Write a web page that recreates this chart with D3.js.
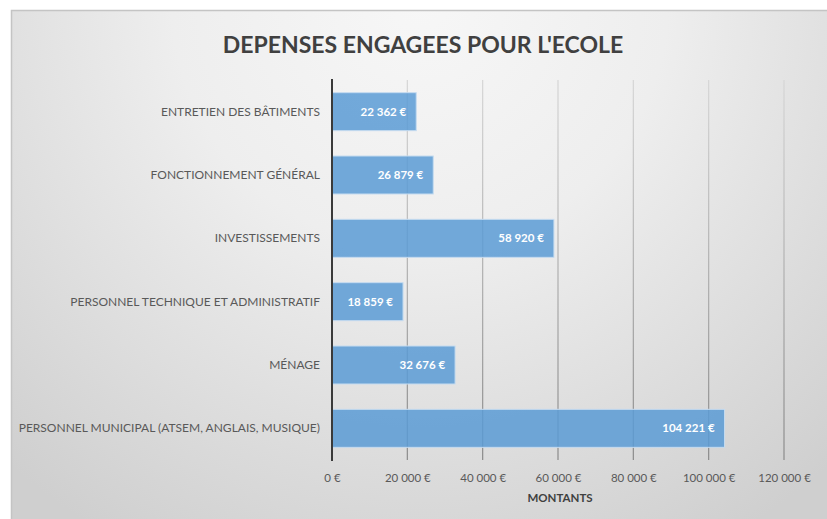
<!DOCTYPE html>
<html lang="fr">
<head>
    <meta charset="UTF-8">
    <title>Dépenses engagées pour l'école</title>
    <style>
        body { margin: 0; background: #fff; }
        text { font-family: Lato, "Open Sans", sans-serif; }
    </style>
</head>
<body>
<script src="https://d3js.org/d3.v7.min.js"></script>
<script>
    var categories = [
        "ENTRETIEN DES BÂTIMENTS",
        "FONCTIONNEMENT GÉNÉRAL",
        "INVESTISSEMENTS ",
        "PERSONNEL TECHNIQUE ET ADMINISTRATIF",
        "MÉNAGE",
        "PERSONNEL MUNICIPAL (ATSEM, ANGLAIS, MUSIQUE)"
    ];
    var montants = [22362, 26879, 58920, 18859, 32676, 104221];
    var tickValues = [0, 20000, 40000, 60000, 80000, 100000, 120000];

    var width = 827,
        height = 519;

    // format "104 221 €"
    var fmt = function (v) {
        return d3.format(",")(v).replace(/,/g, " ") + " €";
    };

    var svg = d3.select("body")
        .append("svg")
        .attr("width", width)
        .attr("height", height);

    var defs = svg.append("defs");
    var bg = defs.append("radialGradient")
        .attr("id", "bg")
        .attr("gradientUnits", "userSpaceOnUse")
        .attr("cx", 420).attr("cy", 0).attr("r", 620);
    bg.append("stop").attr("offset", "0%").attr("stop-color", "#f7f7f7");
    bg.append("stop").attr("offset", "40%").attr("stop-color", "#eeeeee");
    bg.append("stop").attr("offset", "100%").attr("stop-color", "#cfcfcf");

    var gridGrad = defs.append("linearGradient")
        .attr("id", "gridGrad")
        .attr("gradientUnits", "userSpaceOnUse")
        .attr("x1", 0).attr("y1", 80).attr("x2", 0).attr("y2", 460);
    gridGrad.append("stop").attr("offset", "0%").attr("stop-color", "#d6d6d6");
    gridGrad.append("stop").attr("offset", "100%").attr("stop-color", "#8a8a8a");

    // chart frame
    svg.append("rect")
        .attr("x", 11.5).attr("y", 10.5)
        .attr("width", 830).attr("height", 520)
        .attr("fill", "url(#bg)")
        .attr("stroke", "#c4c4c4")
        .attr("stroke-width", 1.5);

    svg.append("text")
        .attr("x", 423)
        .attr("y", 53)
        .attr("text-anchor", "middle")
        .attr("font-size", 23)
        .attr("font-weight", "bold")
        .attr("fill", "#404040")
        .text("DEPENSES ENGAGEES POUR L'ECOLE");

    var x = d3.scaleLinear()
        .domain([0, 120000])
        .range([332, 784]);

    var y = d3.scaleBand()
        .domain(categories)
        .range([80, 460])
        .paddingInner(0.4)
        .paddingOuter(0.2);

    // gridlines
    svg.append("g")
        .selectAll("line")
        .data(tickValues.slice(1))
        .enter()
        .append("line")
        .attr("x1", function (d) { return x(d); })
        .attr("x2", function (d) { return x(d); })
        .attr("y1", 80)
        .attr("y2", 460)
        .attr("stroke", "url(#gridGrad)")
        .attr("stroke-width", 1.2);

    // bars
    svg.append("g")
        .selectAll("rect")
        .data(montants)
        .enter()
        .append("rect")
        .attr("x", x(0))
        .attr("y", function (d, i) { return y(categories[i]); })
        .attr("width", function (d) { return x(d) - x(0); })
        .attr("height", y.bandwidth())
        .attr("fill", "#5b9bd5")
        .attr("fill-opacity", 0.85)
        .attr("stroke", "#c6dcf0")
        .attr("stroke-width", 1);

    // value labels
    svg.append("g")
        .selectAll("text")
        .data(montants)
        .enter()
        .append("text")
        .attr("x", function (d) { return x(d) - 10; })
        .attr("y", function (d, i) { return y(categories[i]) + y.bandwidth() / 2; })
        .attr("dy", "0.35em")
        .attr("text-anchor", "end")
        .attr("font-size", 11.5)
        .attr("font-weight", "bold")
        .attr("fill", "#ffffff")
        .text(fmt);

    // y axis (category labels)
    var yAxis = svg.append("g")
        .attr("transform", "translate(" + x(0) + ",0)")
        .call(d3.axisLeft(y).tickSize(0).tickPadding(12));
    yAxis.select(".domain").remove();
    yAxis.selectAll("text")
        .attr("font-size", 12)
        .attr("fill", "#595959")
        .style("font-family", "Lato, 'Open Sans', sans-serif");

    svg.append("line")
        .attr("x1", x(0)).attr("x2", x(0))
        .attr("y1", 79).attr("y2", 461)
        .attr("stroke", "#3a3a3a")
        .attr("stroke-width", 2);

    // x axis (tick labels only)
    var xAxis = svg.append("g")
        .attr("transform", "translate(0,460)")
        .call(d3.axisBottom(x).tickValues(tickValues).tickSize(0).tickPadding(14).tickFormat(fmt));
    xAxis.select(".domain").remove();
    xAxis.selectAll("text")
        .attr("font-size", 11.5)
        .attr("fill", "#595959")
        .style("font-family", "Lato, 'Open Sans', sans-serif");

    svg.append("text")
        .attr("x", (x(0) + x(120000)) / 2 + 2)
        .attr("y", 502)
        .attr("text-anchor", "middle")
        .attr("font-size", 11.5)
        .attr("font-weight", "bold")
        .attr("fill", "#404040")
        .text("MONTANTS");
</script>
</body>
</html>
